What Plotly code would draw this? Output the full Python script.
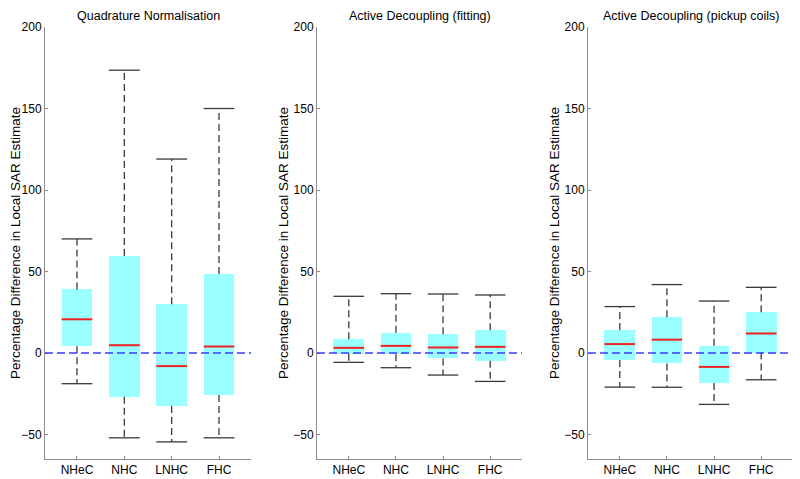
import plotly.graph_objects as go

categories = ["NHeC", "NHC", "LNHC", "FHC"]
panel_titles = ["Quadrature Normalisation", "Active Decoupling (fitting)", "Active Decoupling (pickup coils)"]
y_title = "Percentage Difference in Local SAR Estimate"

# box statistics
quad_upper = [70, 173.5, 119, 150]
quad_q3 = [39, 59.5, 30, 48.5]
quad_med = [20.7, 4.8, -8, 4]
quad_q1 = [4.2, -26.8, -32.5, -25.8]
quad_lower = [-18.8, -52, -54.5, -52]

fit_upper = [34.8, 36.4, 36.2, 35.6]
fit_q3 = [8.4, 12.5, 11.5, 14]
fit_med = [3.2, 4.4, 3.4, 3.8]
fit_q1 = [-0.5, -0.8, -3.3, -4.7]
fit_lower = [-5.7, -9, -13.5, -17.4]

coil_upper = [28.5, 42, 31.9, 40.3]
coil_q3 = [14.1, 21.9, 4.5, 25]
coil_med = [5.5, 8.2, -8.5, 12]
coil_q1 = [-4.2, -6.4, -18.4, 0.3]
coil_lower = [-20.9, -21, -31.5, -16.4]

panels = [
    (quad_lower, quad_q1, quad_med, quad_q3, quad_upper),
    (fit_lower, fit_q1, fit_med, fit_q3, fit_upper),
    (coil_lower, coil_q1, coil_med, coil_q3, coil_upper),
]

# the page body adds an 8px margin, so the figure is a bit smaller than the window
W = 792
H = 471
ML, MR, MT, MB = 37, 7, 19, 20
pw = W - ML - MR
# panel pixel extents (left, right) in figure coords
px = [(37, 243), (309, 514), (580, 785)]
domains = [[(a - ML) / pw, (b - ML) / pw] for a, b in px]

hw = 0.325  # half box width
box_col = "#99ffff"
med_col = "#ee2222"
wh_col = "#3a3a3a"
ax_col = "#8c8c8c"

fig = go.Figure()


def segs(xs0, xs1, ys0, ys1):
    x, y = [], []
    for a, b, c, d in zip(xs0, xs1, ys0, ys1):
        x += [a, b, None]
        y += [c, d, None]
    return x, y


for k, (lo, q1, med, q3, up) in enumerate(panels):
    xa = "x" if k == 0 else f"x{k+1}"
    ya = "y" if k == 0 else f"y{k+1}"
    idx = list(range(len(categories)))

    fig.add_trace(go.Bar(
        x=idx, y=[b - a for a, b in zip(q1, q3)], base=q1, width=2 * hw,
        marker=dict(color=box_col, line=dict(width=0)),
        xaxis=xa, yaxis=ya, showlegend=False, hoverinfo="skip"))

    # whiskers (dashed)
    x, y = segs(idx + idx, idx + idx, q3 + q1, up + lo)
    fig.add_trace(go.Scatter(x=x, y=y, mode="lines",
                             line=dict(color=wh_col, width=1.3, dash="7px,4px"),
                             xaxis=xa, yaxis=ya, showlegend=False, hoverinfo="skip"))
    # caps
    left = [i - hw for i in idx]
    right = [i + hw for i in idx]
    x, y = segs(left + left, right + right, up + lo, up + lo)
    fig.add_trace(go.Scatter(x=x, y=y, mode="lines",
                             line=dict(color=wh_col, width=1.3),
                             xaxis=xa, yaxis=ya, showlegend=False, hoverinfo="skip"))
    # medians
    x, y = segs(left, right, med, med)
    fig.add_trace(go.Scatter(x=x, y=y, mode="lines",
                             line=dict(color=med_col, width=2),
                             xaxis=xa, yaxis=ya, showlegend=False, hoverinfo="skip"))

    # zero reference line
    fig.add_shape(type="line", xref=f"{xa} domain", yref=ya, x0=0, x1=1, y0=0, y1=0,
                  line=dict(color="#3a3aff", width=1.5, dash="8px,4px"), layer="above")

    fig.add_annotation(text=panel_titles[k], xref=f"{xa} domain", yref="paper",
                       x=0.5, y=1, yshift=11.5, showarrow=False,
                       font=dict(size=12.5, color="black"), yanchor="middle")

    axkw = dict(showline=True, linecolor=ax_col, linewidth=1, ticks="inside", ticklen=3,
                tickcolor=ax_col, showgrid=False, zeroline=False, automargin=False,
                tickfont=dict(size=12, color="black"))
    fig.layout[f"xaxis{'' if k == 0 else k+1}"] = dict(
        domain=domains[k], anchor=ya, range=[-0.675, 3.675],
        tickmode="array", tickvals=idx, ticktext=categories, **axkw)
    fig.layout[f"yaxis{'' if k == 0 else k+1}"] = dict(
        domain=[0, 1], anchor=xa, range=[-65, 200],
        tickmode="array", tickvals=[-50, 0, 50, 100, 150, 200],
        title=dict(text=y_title, font=dict(size=13.5, color="black"), standoff=1), **axkw)

fig.update_layout(
    width=W, height=H,
    margin=dict(l=ML, r=MR, t=MT, b=MB, autoexpand=False),
    plot_bgcolor="white", paper_bgcolor="white",
    font=dict(family="Liberation Sans, Arial, sans-serif"),
    bargap=0,
)

fig.write_html("out.html")
